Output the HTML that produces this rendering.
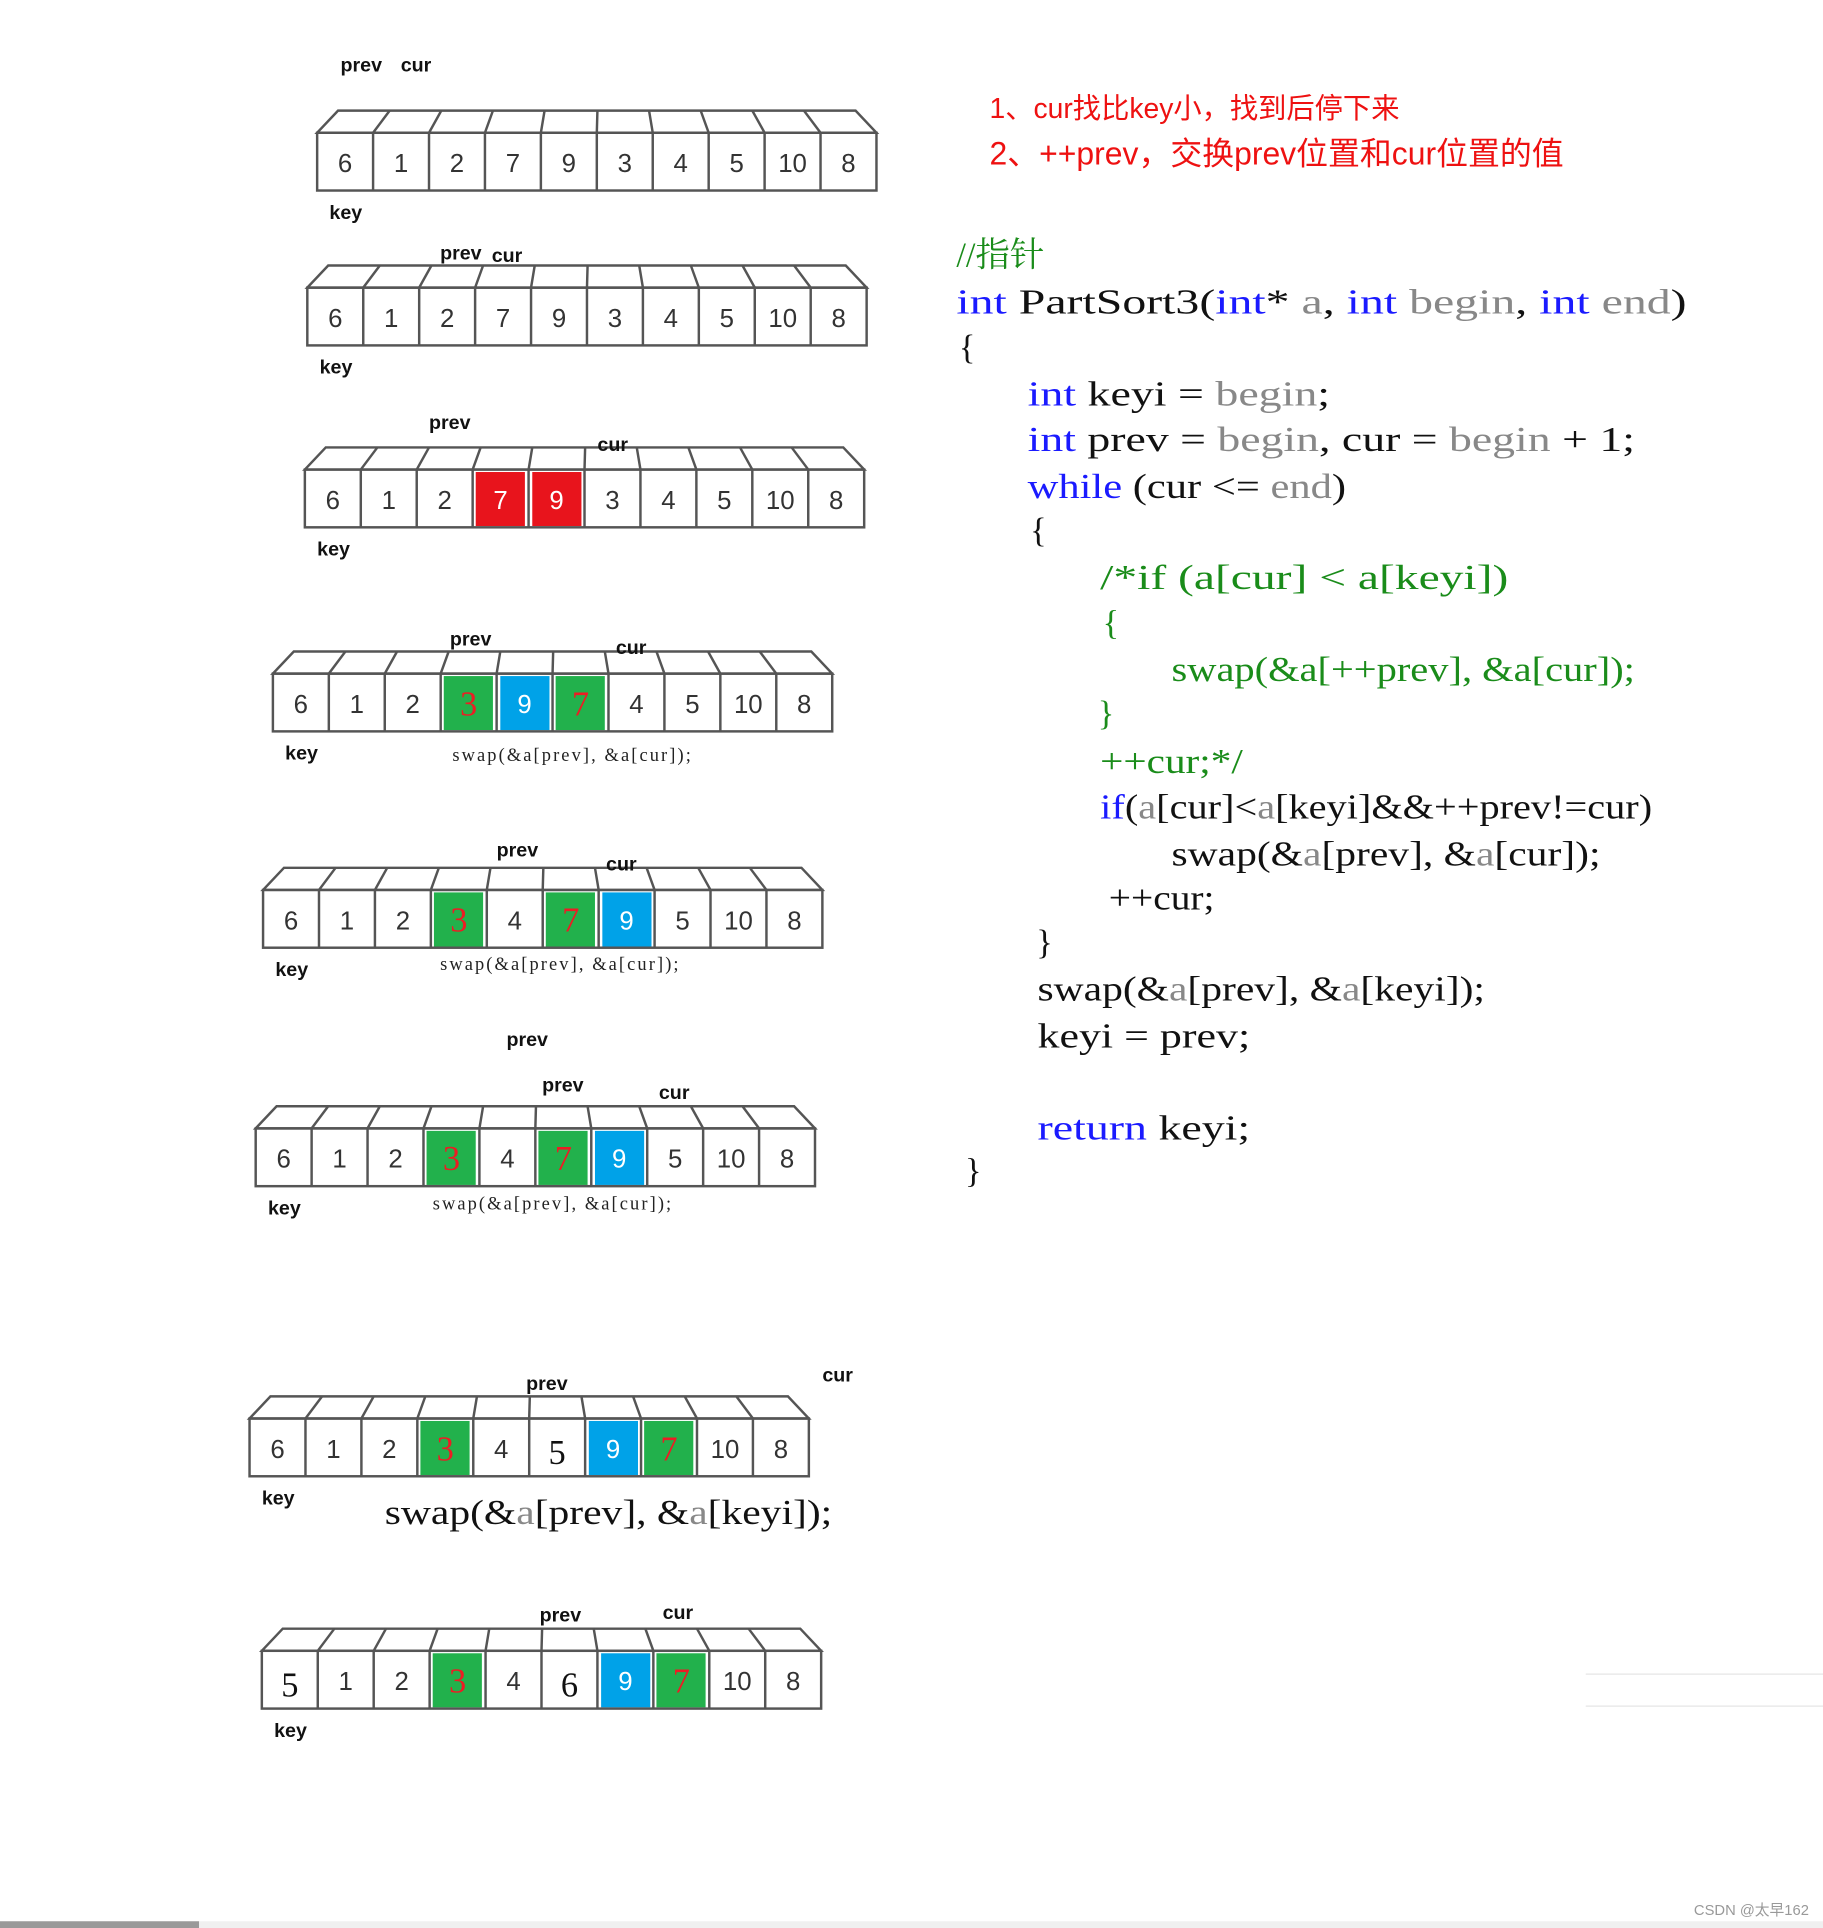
<!DOCTYPE html>
<html><head><meta charset="utf-8"><style>html,body{margin:0;padding:0;background:#fff}svg{display:block}</style></head>
<body>
<svg width="1823" height="1928" viewBox="0 0 1483 1568.5" preserveAspectRatio="none" xmlns="http://www.w3.org/2000/svg">
<defs>
<g id="f" fill="none" stroke="#555" stroke-width="2">
<polygon points="0,18 17,0 438,0 455,18"/>
<rect x="0" y="18" width="455" height="47"/>
<path d="M45.5,18V65M91,18V65M136.5,18V65M182,18V65M227.5,18V65M273,18V65M318.5,18V65M364,18V65M409.5,18V65"/>
<path d="M45.5,18L59,0M91,18L101,0M136.5,18L143,0M182,18L185,0M227.5,18L228,0M273,18L270,0M318.5,18L312,0M364,18L354,0M409.5,18L396,0"/>
</g>
</defs>
<style>
.d{font-family:"Liberation Sans",sans-serif;font-size:21px;fill:#333;text-anchor:middle}
.s{font-family:"Liberation Serif",serif;font-size:28px;fill:#111;text-anchor:middle;font-style:normal}
.l{font-family:"Liberation Sans",sans-serif;font-weight:bold;font-size:16px;fill:#111}
.c{font-family:"Liberation Serif","Noto Serif CJK SC",serif;font-size:28px;fill:#111}
.k{fill:#1a1aff}.g{fill:#888}.gr{fill:#1a8c1a}
.sw{font-family:"Liberation Serif",serif;font-size:15px;fill:#222}
</style>

<g transform="translate(258,90)"><use href="#f"/>
<g class="d"><text x="22.75" y="50">6</text><text x="68.25" y="50">1</text><text x="113.75" y="50">2</text><text x="159.25" y="50">7</text><text x="204.75" y="50">9</text><text x="250.25" y="50">3</text><text x="295.75" y="50">4</text><text x="341.25" y="50">5</text><text x="386.75" y="50">10</text><text x="432.25" y="50">8</text></g></g>
<text class="l" x="277" y="58">prev</text><text class="l" x="326" y="58">cur</text><text class="l" x="268" y="178">key</text>

<g transform="translate(250,216)"><use href="#f"/>
<g class="d"><text x="22.75" y="50">6</text><text x="68.25" y="50">1</text><text x="113.75" y="50">2</text><text x="159.25" y="50">7</text><text x="204.75" y="50">9</text><text x="250.25" y="50">3</text><text x="295.75" y="50">4</text><text x="341.25" y="50">5</text><text x="386.75" y="50">10</text><text x="432.25" y="50">8</text></g></g>
<text class="l" x="358" y="211">prev</text><text class="l" x="400" y="213">cur</text><text class="l" x="260" y="304">key</text>

<g transform="translate(248,364)">
<rect x="139" y="20" width="40" height="44" fill="#e8141c"/><rect x="185" y="20" width="40" height="44" fill="#e8141c"/>
<use href="#f"/>
<g class="d"><text x="22.75" y="50">6</text><text x="68.25" y="50">1</text><text x="113.75" y="50">2</text><text x="159.25" y="50" style="fill:#fff">7</text><text x="204.75" y="50" style="fill:#fff">9</text><text x="250.25" y="50">3</text><text x="295.75" y="50">4</text><text x="341.25" y="50">5</text><text x="386.75" y="50">10</text><text x="432.25" y="50">8</text></g></g>
<text class="l" x="349" y="349">prev</text><text class="l" x="486" y="367">cur</text><text class="l" x="258" y="452">key</text>

<g transform="translate(222,530)">
<rect x="139" y="20" width="40" height="44" fill="#22b14c"/><rect x="185" y="20" width="40" height="44" fill="#00a2e8"/><rect x="230" y="20" width="40" height="44" fill="#22b14c"/>
<use href="#f"/>
<g class="d"><text x="22.75" y="50">6</text><text x="68.25" y="50">1</text><text x="113.75" y="50">2</text><text x="159.25" y="52" class="s" style="fill:#ed1c24">3</text><text x="204.75" y="50" style="fill:#fff">9</text><text x="250.25" y="52" class="s" style="fill:#ed1c24">7</text><text x="295.75" y="50">4</text><text x="341.25" y="50">5</text><text x="386.75" y="50">10</text><text x="432.25" y="50">8</text></g></g>
<text class="l" x="366" y="525">prev</text><text class="l" x="501" y="532">cur</text><text class="l" x="232" y="618">key</text>
<text class="sw" x="368" y="619" textLength="194" lengthAdjust="spacing">swap(&amp;a[prev], &amp;a[cur]);</text>

<g transform="translate(214,706)">
<rect x="139" y="20" width="40" height="44" fill="#22b14c"/><rect x="230" y="20" width="40" height="44" fill="#22b14c"/><rect x="276" y="20" width="40" height="44" fill="#00a2e8"/>
<use href="#f"/>
<g class="d"><text x="22.75" y="50">6</text><text x="68.25" y="50">1</text><text x="113.75" y="50">2</text><text x="159.25" y="52" class="s" style="fill:#ed1c24">3</text><text x="204.75" y="50">4</text><text x="250.25" y="52" class="s" style="fill:#ed1c24">7</text><text x="295.75" y="50" style="fill:#fff">9</text><text x="341.25" y="50">5</text><text x="386.75" y="50">10</text><text x="432.25" y="50">8</text></g></g>
<text class="l" x="404" y="697">prev</text><text class="l" x="493" y="708">cur</text><text class="l" x="224" y="794">key</text>
<text class="sw" x="358" y="789" textLength="194" lengthAdjust="spacing">swap(&amp;a[prev], &amp;a[cur]);</text>

<g transform="translate(208,900)">
<rect x="139" y="20" width="40" height="44" fill="#22b14c"/><rect x="230" y="20" width="40" height="44" fill="#22b14c"/><rect x="276" y="20" width="40" height="44" fill="#00a2e8"/>
<use href="#f"/>
<g class="d"><text x="22.75" y="50">6</text><text x="68.25" y="50">1</text><text x="113.75" y="50">2</text><text x="159.25" y="52" class="s" style="fill:#ed1c24">3</text><text x="204.75" y="50">4</text><text x="250.25" y="52" class="s" style="fill:#ed1c24">7</text><text x="295.75" y="50" style="fill:#fff">9</text><text x="341.25" y="50">5</text><text x="386.75" y="50">10</text><text x="432.25" y="50">8</text></g></g>
<text class="l" x="412" y="851">prev</text><text class="l" x="441" y="888">prev</text><text class="l" x="536" y="894">cur</text><text class="l" x="218" y="988">key</text>
<text class="sw" x="352" y="984" textLength="194" lengthAdjust="spacing">swap(&amp;a[prev], &amp;a[cur]);</text>

<g transform="translate(203,1136)">
<rect x="139" y="20" width="40" height="44" fill="#22b14c"/><rect x="276" y="20" width="40" height="44" fill="#00a2e8"/><rect x="321" y="20" width="40" height="44" fill="#22b14c"/>
<use href="#f"/>
<g class="d"><text x="22.75" y="50">6</text><text x="68.25" y="50">1</text><text x="113.75" y="50">2</text><text x="159.25" y="52" class="s" style="fill:#ed1c24">3</text><text x="204.75" y="50">4</text><text x="250.25" y="55" class="s">5</text><text x="295.75" y="50" style="fill:#fff">9</text><text x="341.25" y="52" class="s" style="fill:#ed1c24">7</text><text x="386.75" y="50">10</text><text x="432.25" y="50">8</text></g></g>
<text class="l" x="428" y="1131">prev</text><text class="l" x="669" y="1124">cur</text><text class="l" x="213" y="1224">key</text>
<text class="c" x="313" y="1240" textLength="364" lengthAdjust="spacingAndGlyphs">swap(&amp;<tspan class="g">a</tspan>[prev], &amp;<tspan class="g">a</tspan>[keyi]);</text>

<g transform="translate(213,1325)">
<rect x="139" y="20" width="40" height="44" fill="#22b14c"/><rect x="276" y="20" width="40" height="44" fill="#00a2e8"/><rect x="321" y="20" width="40" height="44" fill="#22b14c"/>
<use href="#f"/>
<g class="d"><text x="22.75" y="55" class="s">5</text><text x="68.25" y="50">1</text><text x="113.75" y="50">2</text><text x="159.25" y="52" class="s" style="fill:#ed1c24">3</text><text x="204.75" y="50">4</text><text x="250.25" y="55" class="s">6</text><text x="295.75" y="50" style="fill:#fff">9</text><text x="341.25" y="52" class="s" style="fill:#ed1c24">7</text><text x="386.75" y="50">10</text><text x="432.25" y="50">8</text></g></g>
<text class="l" x="439" y="1319">prev</text><text class="l" x="539" y="1317">cur</text><text class="l" x="223" y="1413">key</text>

<text x="805" y="96" font-family="'Liberation Sans','Noto Sans CJK SC',sans-serif" font-size="23" fill="#ee1111">1、cur找比key小，找到后停下来</text>
<text x="805" y="134" font-family="'Liberation Sans','Noto Sans CJK SC',sans-serif" font-size="26" fill="#ee1111" textLength="467" lengthAdjust="spacingAndGlyphs">2、++prev，交换prev位置和cur位置的值</text>

<g class="c">
<text x="778" y="217" class="gr">//指针</text>
<text x="778" y="255" textLength="594" lengthAdjust="spacingAndGlyphs"><tspan class="k">int</tspan> PartSort3(<tspan class="k">int</tspan>* <tspan class="g">a</tspan>, <tspan class="k">int</tspan> <tspan class="g">begin</tspan>, <tspan class="k">int</tspan> <tspan class="g">end</tspan>)</text>
<text x="780" y="292">{</text>
<text x="836" y="330" textLength="246" lengthAdjust="spacingAndGlyphs"><tspan class="k">int</tspan> keyi = <tspan class="g">begin</tspan>;</text>
<text x="836" y="367" textLength="494" lengthAdjust="spacingAndGlyphs"><tspan class="k">int</tspan> prev = <tspan class="g">begin</tspan>, cur = <tspan class="g">begin</tspan> + 1;</text>
<text x="836" y="405" textLength="259" lengthAdjust="spacingAndGlyphs"><tspan class="k">while</tspan> (cur &lt;= <tspan class="g">end</tspan>)</text>
<text x="838" y="441">{</text>
<text x="895" y="479" class="gr" textLength="332" lengthAdjust="spacingAndGlyphs">/*if (a[cur] &lt; a[keyi])</text>
<text x="897" y="516" class="gr">{</text>
<text x="953" y="554" class="gr" textLength="377" lengthAdjust="spacingAndGlyphs">swap(&amp;a[++prev], &amp;a[cur]);</text>
<text x="893" y="590" class="gr">}</text>
<text x="895" y="629" class="gr" textLength="116" lengthAdjust="spacingAndGlyphs">++cur;*/</text>
<text x="895" y="666" textLength="449" lengthAdjust="spacingAndGlyphs"><tspan class="k">if</tspan>(<tspan class="g">a</tspan>[cur]&lt;<tspan class="g">a</tspan>[keyi]&amp;&amp;++prev!=cur)</text>
<text x="953" y="704" textLength="349" lengthAdjust="spacingAndGlyphs">swap(&amp;<tspan class="g">a</tspan>[prev], &amp;<tspan class="g">a</tspan>[cur]);</text>
<text x="902" y="740" textLength="86" lengthAdjust="spacingAndGlyphs">++cur;</text>
<text x="843" y="776">}</text>
<text x="844" y="814" textLength="364" lengthAdjust="spacingAndGlyphs">swap(&amp;<tspan class="g">a</tspan>[prev], &amp;<tspan class="g">a</tspan>[keyi]);</text>
<text x="844" y="852" textLength="173" lengthAdjust="spacingAndGlyphs">keyi = prev;</text>
<text x="844" y="927" textLength="173" lengthAdjust="spacingAndGlyphs"><tspan class="k">return</tspan> keyi;</text>
<text x="785" y="962">}</text>
</g>

<line x1="1290" y1="1362" x2="1483" y2="1362" stroke="#e6e6e6" stroke-width="1"/>
<line x1="1290" y1="1388" x2="1483" y2="1388" stroke="#e6e6e6" stroke-width="1"/>
<rect x="0" y="1563" width="162" height="6" fill="#999"/>
<rect x="162" y="1563" width="1321" height="6" fill="#f0f0f0"/>
<text x="1378" y="1558" font-family="'Liberation Sans','Noto Sans CJK SC',sans-serif" font-size="12" fill="#999">CSDN @太早162</text>
</svg>
</body></html>
